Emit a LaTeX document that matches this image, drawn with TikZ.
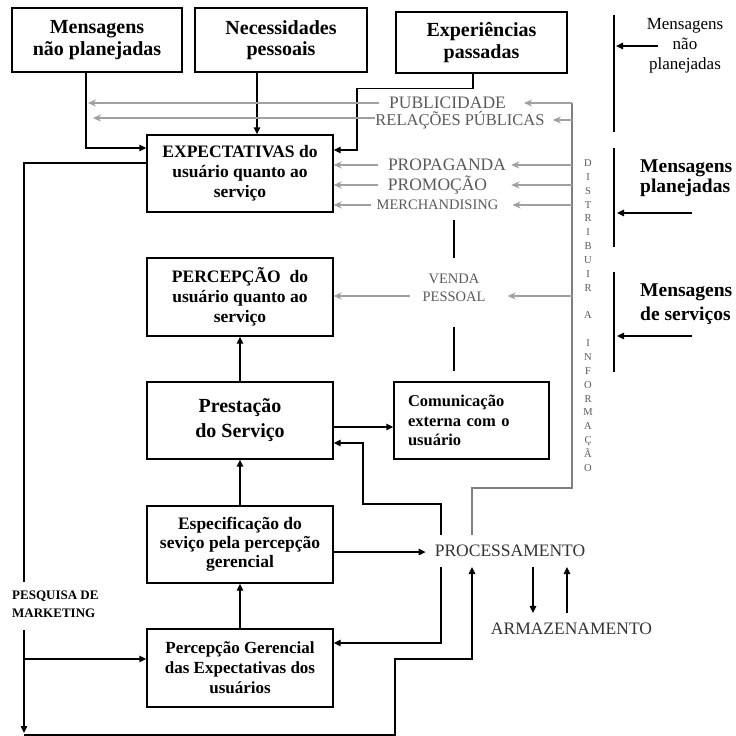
\documentclass[tikz,border=0pt]{standalone}
\usepackage{fontspec}
\setmainfont{Liberation Serif}
\usetikzlibrary{arrows.meta}

\definecolor{lineg}{HTML}{A0A0A0}
\definecolor{textg}{HTML}{5A5A5A}
\definecolor{trunkg}{HTML}{808080}
\definecolor{darktext}{HTML}{333333}

\tikzset{
  box/.style={draw, line width=1.4pt, inner sep=2pt, align=center,
              font=\bfseries\fontsize{17.5}{20}\selectfont},
  bigbox/.style={box, font=\bfseries\fontsize{20}{21.5}\selectfont},
  blk/.style={line width=1.4pt},
  arr/.style={blk, -{Triangle[length=7pt,width=6.5pt]}},
  gline/.style={line width=1.4pt, draw=lineg},
  garr/.style={gline, -{Stealth[length=8pt,width=7pt]}},
  glabel/.style={text=textg, inner sep=0pt, font=\fontsize{17.5}{18}\selectfont},
}

\begin{document}
\begin{tikzpicture}[x=1pt, y=-1pt]
\fill[white] (0,0) rectangle (736,736);
\useasboundingbox (0,0) rectangle (736,736);

% ---- source boxes ----
\node[bigbox, minimum width=170pt, minimum height=64pt] (mnp) at (97,40) {Mensagens\\não planejadas};
\node[bigbox, minimum width=172pt, minimum height=64pt] (nec) at (281,40) {Necessidades\\pessoais};
\node[bigbox, minimum width=171pt, minimum height=61pt] (exp) at (481.5,42.5) {Experiências\\passadas};

% ---- main column ----
\node[box, minimum width=186pt, minimum height=77pt] (expect) at (240,173.5) {EXPECTATIVAS do\\usuário quanto ao\\serviço};
\node[box, minimum width=186pt, minimum height=78pt] (perc) at (240,297) {PERCEPÇÃO~ do\\usuário quanto ao\\serviço};
\node[bigbox, font=\bfseries\fontsize{20}{25}\selectfont, minimum width=186pt, minimum height=77pt] (prest) at (240,420.5) {Prestação\\do Serviço};
\node[box, font=\bfseries\fontsize{17.5}{19}\selectfont, minimum width=186pt, minimum height=77pt] (espec) at (240,544.5) {Especificação do\\seviço pela percepção\\gerencial};
\node[box, font=\bfseries\fontsize{17}{20}\selectfont, minimum width=186pt, minimum height=78pt] (pger) at (240,668) {Percepção Gerencial\\das Expectativas dos\\usuários};
\node[box, font=\bfseries\fontsize{16.5}{19.5}\selectfont, align=left, text width=127pt, minimum width=155pt, minimum height=77pt] (comm) at (471.5,420.5) {Comunicação\\externa com o\\usuário};

% ---- communication channels ----
\node[glabel] (pub) at (447.5,103) {PUBLICIDADE};
\node[glabel, font=\fontsize{16.5}{18}\selectfont] (rp) at (460,120) {RELAÇÕES PÚBLICAS};
\node[glabel] (prop) at (447,165) {PROPAGANDA};
\node[glabel] (promo) at (437.5,185) {PROMOÇÃO};
\node[glabel, font=\fontsize{14.5}{16}\selectfont] (merch) at (437.5,205) {MERCHANDISING};
\node[glabel, font=\fontsize{14.5}{18}\selectfont, align=center] (venda) at (454,288) {VENDA\\PESSOAL};

\node[text=textg, font=\fontsize{10.5}{13.86}\selectfont, align=center, inner sep=0pt] (dist) at (588,315.5)
  {D\\I\\S\\T\\R\\I\\B\\U\\I\\R\\[13.86pt]A\\[13.86pt]I\\N\\F\\O\\R\\M\\A\\Ç\\Ã\\O};

% ---- processing ----
\node[text=darktext, font=\fontsize{17.5}{18}\selectfont, inner xsep=9pt, inner ysep=10pt] (proc) at (510,551) {PROCESSAMENTO};
\node[text=darktext, font=\fontsize{17.5}{18}\selectfont, inner ysep=10pt] (arm) at (571.5,629) {ARMAZENAMENTO};
\node[font=\bfseries\fontsize{13}{18}\selectfont, align=left, inner sep=0pt, anchor=west] (pesq) at (12,604) {PESQUISA DE\\MARKETING};

% ---- message types on the right ----
\node[font=\fontsize{17}{20}\selectfont, align=center, inner sep=0pt] (mnpR) at (685,46) {Mensagens\\não\\planejadas};
\node[font=\bfseries\fontsize{19.5}{20}\selectfont, align=left, anchor=west, inner sep=0pt] (mplan) at (640,178.5) {Mensagens\\planejadas};
\node[font=\bfseries\fontsize{19.5}{24}\selectfont, align=left, anchor=west, inner sep=0pt] (mserv) at (640,304) {Mensagens\\de serviços};

% ---- helper points ----
\coordinate (necOut) at ([xshift=-24pt]nec.south);
\coordinate (mnpOut) at ([xshift=-11pt]mnp.south);
\coordinate (mnpIn) at ([yshift=25.5pt]expect.west);
\coordinate (expOut) at ([xshift=-8.5pt]exp.south);
\coordinate (expIn) at ([yshift=23.5pt]expect.east);
\coordinate (pubTip) at (88,103);
\coordinate (rpTip) at (93,118);
\coordinate (rpL) at ([yshift=2pt]rp.west);
\coordinate (vendaL) at ([xshift=-12.5pt,yshift=-8pt]venda.west);
\coordinate (vendaR) at ([yshift=-8pt]venda.east);
\coordinate (trunkTop) at (572,103);
\coordinate (trunkBend) at (572,488);
\coordinate (prestOut) at ([yshift=-6.5pt]prest.east);
\coordinate (prestIn) at ([yshift=-22.5pt]prest.east);
\coordinate (specOut) at ([yshift=-7.5pt]espec.east);
\coordinate (procUpL) at ([xshift=-69pt]proc.north);
\coordinate (procUpR) at ([xshift=-38pt]proc.north);
\coordinate (procDnL) at ([xshift=-69pt]proc.south);
\coordinate (procDnR) at ([xshift=-38pt]proc.south);
\coordinate (pgerIn) at ([yshift=25pt]pger.east);
\coordinate (pgerIn2) at ([yshift=9pt]pger.west);
\coordinate (expectOut) at ([yshift=10.5pt]expect.west);
\coordinate (mkTop) at (24,582);
\coordinate (mkBot) at (24,630);
\coordinate (mkEnd) at (24,733);
\coordinate (loopStart) at (24,735);
\coordinate (loopMid) at (395,659);
\coordinate (storeDn) at ([xshift=23pt]proc.south);
\coordinate (storeUp) at ([xshift=57pt]proc.south);

% ---- inputs to expectations ----
\draw[arr] (mnpOut) |- (mnpIn);
\draw[arr] (necOut) -- (necOut |- expect.north);
\draw[arr] (expOut) -- ++(0,15) -- ++(-116,0) |- (expIn);

% ---- channel arrows (left) ----
\draw[garr] ([xshift=-10pt]pub.west) -- (pubTip);
\draw[garr] (rpL) -- (rpTip);
\draw[garr] ([xshift=-10pt]prop.west) -- (prop.west -| expect.east);
\draw[garr] ([xshift=-10pt]promo.west) -- (promo.west -| expect.east);
\draw[garr] ([xshift=-5pt]merch.west) -- (merch.west -| expect.east);
\draw[garr] (vendaL) -- (vendaL -| perc.east);

% ---- distribution trunk and channel arrows (right) ----
\draw[gline, draw=trunkg] (procUpR) |- (trunkBend) -- (trunkTop);
\draw[garr] (trunkTop) -- ([xshift=18pt]pub.east);
\draw[garr] (rp.east -| trunkTop) -- ([xshift=8pt]rp.east);
\draw[garr] (prop.east -| trunkTop) -- ([xshift=5pt]prop.east);
\draw[garr] (promo.east -| trunkTop) -- ([xshift=24pt]promo.east);
\draw[garr] (merch.east -| trunkTop) -- ([xshift=14pt]merch.east);
\draw[garr] (vendaR -| trunkTop) -- ([xshift=22pt]vendaR);

% ---- personal selling link ----
\draw[blk, shorten <=10pt, shorten >=15.5pt] (merch.south -| venda.north) -- (venda.north);
\draw[blk, shorten <=25pt, shorten >=10pt] (venda.south) -- (venda.south |- comm.north);

% ---- main column flow ----
\draw[arr] (prest.north) -- (perc.south);
\draw[arr] (espec.north) -- (prest.south);
\draw[arr] (pger.north) -- (espec.south);
\draw[arr] (prestOut) -- (prestOut -| comm.west);
\draw[arr] (procUpL) -- ++(0,-31) -- ++(-78,0) |- (prestIn);
\draw[arr] (specOut) -- (specOut -| proc.west);
\draw[arr] (procDnL) |- (pgerIn);

% ---- storage ----
\draw[arr] (storeDn) -- (storeDn |- arm.north);
\draw[arr] (storeUp |- arm.north) -- (storeUp);

% ---- marketing research loop ----
\draw[blk] (expectOut) -| (mkTop);
\draw[arr] (mkBot) -- (mkEnd);
\draw[arr] (pgerIn2 -| mkBot) -- (pgerIn2);
\draw[arr] (loopStart) -| (loopMid) -| (procDnR);

% ---- message type brackets ----
\draw[blk] (614,15) coordinate (b1t) -- (614,132) coordinate (b1b);
\draw[blk] (614,148) coordinate (b2t) -- (614,247) coordinate (b2b);
\draw[blk] (614,272) coordinate (b3t) -- (614,372) coordinate (b3b);
\coordinate (a1s) at (658,46);
\coordinate (a1e) at (616,46);
\coordinate (a2s) at (692,213);
\coordinate (a2e) at (617,213);
\coordinate (a3s) at (692,336);
\coordinate (a3e) at (617,336);
\draw[arr] (a1s) -- (a1e);
\draw[arr] (a2s) -- (a2e);
\draw[arr] (a3s) -- (a3e);
\end{tikzpicture}
\end{document}
